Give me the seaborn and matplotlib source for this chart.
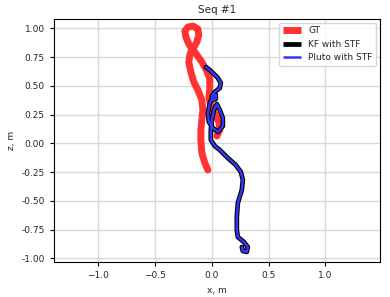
import numpy as np
import matplotlib
matplotlib.use("Agg")
import matplotlib.pyplot as plt
import matplotlib.ticker as mticker
import seaborn as sns

# ---- trajectories (x, z in metres) ----
gt_x = [-0.035, -0.062, -0.088, -0.097, -0.097, -0.088, -0.079, -0.088, -0.123,
        -0.159, -0.185, -0.203, -0.194, -0.176, -0.203, -0.229, -0.238, -0.211,
        -0.167, -0.123, -0.115, -0.132, -0.167, -0.132, -0.088, -0.044, -0.018,
        -0.018, -0.026, -0.009, 0.026, 0.062, 0.070, 0.044]
gt_z = [-0.232, -0.171, -0.084, 0.029, 0.116, 0.203, 0.290, 0.377, 0.463,
        0.533, 0.620, 0.707, 0.768, 0.820, 0.864, 0.925, 0.977, 1.011,
        1.020, 0.994, 0.942, 0.881, 0.820, 0.768, 0.707, 0.629, 0.559,
        0.481, 0.403, 0.324, 0.255, 0.185, 0.116, 0.063]

kf_x = [-0.053, -0.018, 0.018, 0.053, 0.079, 0.070, 0.026, 0.000, 0.009, 0.035,
        0.035, 0.009, -0.018, -0.035, -0.026, 0.009, 0.053, 0.097, 0.097, 0.070,
        0.044, 0.018, 0.000, -0.009, -0.009, 0.026, 0.070, 0.141, 0.211, 0.256,
        0.273, 0.264, 0.229, 0.220, 0.220, 0.229, 0.282, 0.317, 0.308, 0.273,
        0.264]
kf_z = [0.663, 0.637, 0.603, 0.568, 0.524, 0.481, 0.446, 0.411, 0.377, 0.385,
        0.420, 0.403, 0.350, 0.263, 0.185, 0.133, 0.098, 0.150, 0.220, 0.290,
        0.342, 0.290, 0.203, 0.116, 0.029, -0.024, -0.058, -0.128, -0.189, -0.250,
        -0.319, -0.406, -0.519, -0.641, -0.754, -0.815, -0.858, -0.902, -0.945, -0.937,
        -0.902]

# Pluto output sits right on top of the KF one
pluto_x = list(kf_x)
pluto_z = list(kf_z)

sns.set_theme(style="ticks", rc={"axes.grid": True, "grid.color": "#d9d9d9",
                                 "grid.linewidth": 1.0, "axes.edgecolor": "black"})
plt.rcParams["font.family"] = ["DejaVu Sans"]
plt.rcParams["font.size"] = 6.5

fig = plt.figure(figsize=(3.9, 2.97), dpi=100)
ax = fig.add_axes([0.138, 0.118, 0.836, 0.818])

sns.lineplot(x=gt_x, y=gt_z, sort=False, estimator=None, color="#ff3333",
             linewidth=5.0, label="GT", ax=ax)
sns.lineplot(x=kf_x, y=kf_z, sort=False, estimator=None, color="black",
             linewidth=3.4, label="KF with STF", ax=ax)
sns.lineplot(x=pluto_x, y=pluto_z, sort=False, estimator=None, color="#3535f2",
             linewidth=1.8, label="Pluto with STF", ax=ax)

ax.set_xlim(-1.392, 1.48)
ax.set_ylim(-1.032, 1.081)
ax.set_xticks([-1.0, -0.5, 0.0, 0.5, 1.0])
ax.set_yticks(np.arange(-1.0, 1.01, 0.25))
ax.yaxis.set_major_formatter(mticker.FormatStrFormatter("%.2f"))
ax.tick_params(labelsize=6.5, length=3, width=0.8, color="black")
for s in ax.spines.values():
    s.set_linewidth(0.8)
ax.set_xlabel("x, m", fontsize=6.5)
ax.set_ylabel("z, m", fontsize=6.5)
ax.set_title("Seq #1", fontsize=7.5, pad=4)
leg = ax.legend(loc="upper right", fontsize=6.5, frameon=True, fancybox=True,
                edgecolor="#cccccc", borderaxespad=0.4)
for h in leg.get_lines():
    h.set_solid_capstyle("butt")

fig.savefig("out.png", dpi=100)
